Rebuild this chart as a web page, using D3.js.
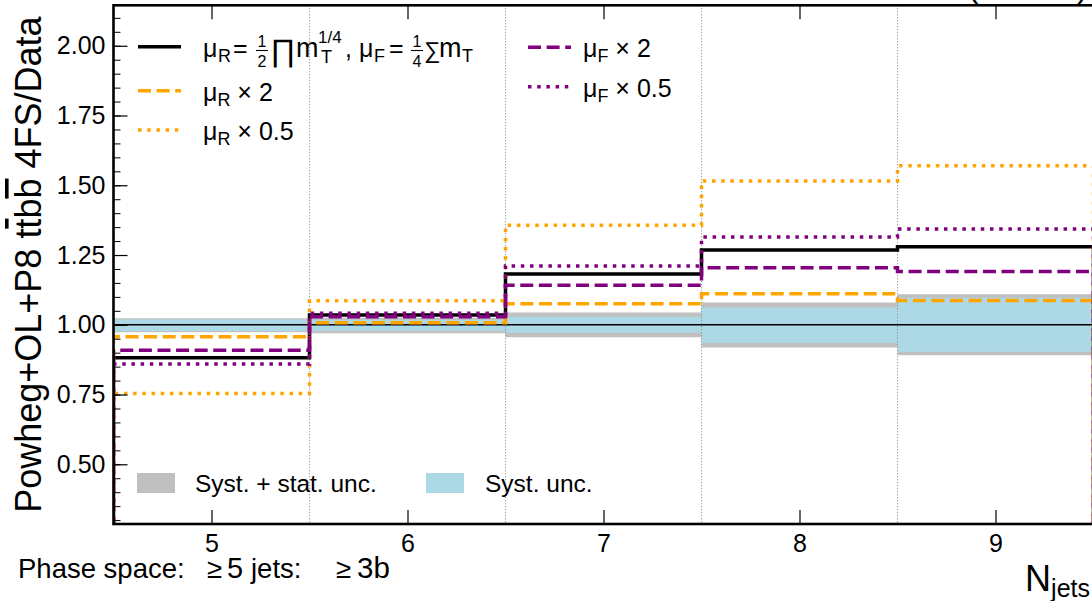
<!DOCTYPE html>
<html><head><meta charset="utf-8">
<script src="https://cdn.jsdelivr.net/npm/d3@7"></script>
<style>
body{margin:0;background:#fff;overflow:hidden}
text{font-family:"Liberation Sans",Arial,Helvetica,sans-serif;fill:#000}
</style>
</head><body>
<svg id="c" width="1092" height="601"></svg>
<script>
// ---- data ----
const binEdges = [4.5, 5.5, 6.5, 7.5, 8.5, 9.5];
const nJets = [5, 6, 7, 8, 9];
const nominal = [0.882, 1.035, 1.182, 1.268, 1.280];
const muRx2 = [0.957, 1.007, 1.075, 1.111, 1.087];
const muRx05 = [0.754, 1.086, 1.357, 1.515, 1.570];
const muFx2 = [0.909, 1.029, 1.142, 1.204, 1.191];
const muFx05 = [0.859, 1.041, 1.211, 1.315, 1.343];
const systStatUp = [1.023, 1.025, 1.044, 1.080, 1.109];
const systStatDown = [0.973, 0.970, 0.955, 0.919, 0.891];
const systUp = [1.019, 1.018, 1.029, 1.062, 1.097];
const systDown = [0.977, 0.979, 0.971, 0.935, 0.903];
const yTickValues = [0.50, 0.75, 1.00, 1.25, 1.50, 1.75, 2.00];
const yMinorValues = d3.range(6, 43).map(i => i * 0.05);

// ---- layout ----
const svg = d3.select("#c");
const L = 113.5, R = 1093.5, T = 5.3, B = 524;
const x = d3.scaleLinear().domain([4.5, 9.5]).range([L, R]);
const y = d3.scaleLinear().domain([0.286, 2.145]).range([B, T]);

svg.append("defs").append("clipPath").attr("id", "clip")
  .append("rect").attr("x", L).attr("y", T).attr("width", R - L).attr("height", B - T);

const plot = svg.append("g").attr("clip-path", "url(#clip)");

// bands
function bandData(lo, hi) {
  const d = lo.map((v, i) => ({ x: binEdges[i], lo: v, hi: hi[i] }));
  d.push({ x: binEdges[binEdges.length - 1], lo: lo[lo.length - 1], hi: hi[hi.length - 1] });
  return d;
}
const area = d3.area().curve(d3.curveStepAfter)
  .x(d => x(d.x)).y0(d => y(d.lo)).y1(d => y(d.hi));
plot.append("path").attr("d", area(bandData(systStatDown, systStatUp))).attr("fill", "#c0c0c0");
plot.append("path").attr("d", area(bandData(systDown, systUp))).attr("fill", "#add8e6");

// reference line
plot.append("line").attr("x1", x(4.5)).attr("x2", x(9.5)).attr("y1", y(1)).attr("y2", y(1))
  .attr("stroke", "#000").attr("stroke-width", 1.4);

// vertical dotted bin boundaries
plot.selectAll("line.vb").data(binEdges.slice(1, -1)).enter().append("line")
  .attr("x1", d => x(d)).attr("x2", d => x(d)).attr("y1", T).attr("y2", B)
  .attr("stroke", "#888").attr("stroke-width", 1.1).attr("stroke-dasharray", "1,2");

// step lines
function stepPoints(vals) {
  const p = [[binEdges[0], 0]];
  vals.forEach((v, i) => { p.push([binEdges[i], v]); p.push([binEdges[i + 1], v]); });
  p.push([binEdges[binEdges.length - 1], 0]);
  return p;
}
const line = d3.line().x(d => x(d[0])).y(d => y(d[1]));
const DASH = "13,5.6", DOT = "3.5,5.7";
const series = [
  { vals: nominal, color: "#000", dash: null, w: 3.5 },
  { vals: muRx2, color: "#ffa500", dash: DASH, w: 3.5 },
  { vals: muRx05, color: "#ffa500", dash: DOT, w: 3.5 },
  { vals: muFx2, color: "#800080", dash: DASH, w: 3.5 },
  { vals: muFx05, color: "#800080", dash: DOT, w: 3.5 },
];
series.forEach(s => {
  plot.append("path").attr("d", line(stepPoints(s.vals))).attr("fill", "none")
    .attr("stroke", s.color).attr("stroke-width", s.w)
    .attr("stroke-dasharray", s.dash);
});

// ---- axes ----
const yMinor = svg.append("g").attr("transform", `translate(${L},0)`)
  .call(d3.axisLeft(y).tickValues(yMinorValues).tickSize(-7).tickFormat(""));
const yMajor = svg.append("g").attr("transform", `translate(${L},0)`)
  .call(d3.axisLeft(y).tickValues(yTickValues).tickSize(-14).tickPadding(8).tickFormat(d3.format(".2f")));
const xBot = svg.append("g").attr("transform", `translate(0,${B})`)
  .call(d3.axisBottom(x).tickValues(nJets).tickSize(-14).tickPadding(10).tickFormat(d3.format("d")));
const xTop = svg.append("g").attr("transform", `translate(0,${T})`)
  .call(d3.axisTop(x).tickValues(nJets).tickSize(-14).tickFormat(""));
[yMinor, yMajor, xBot, xTop].forEach(g => {
  g.select(".domain").remove();
  g.selectAll(".tick line").attr("stroke", "#000").attr("stroke-width", 1.2);
  g.selectAll("text").attr("font-size", 25).attr("font-family", "Liberation Sans, Arial, sans-serif").attr("fill", "#000");
});
yMinor.selectAll(".tick line").attr("stroke-width", 1);

// frame
svg.append("rect").attr("x", L).attr("y", T).attr("width", R - L).attr("height", B - T)
  .attr("fill", "none").attr("stroke", "#000").attr("stroke-width", 2.6);

// axis titles
svg.append("text").attr("transform", `translate(41,${(T + B) / 2}) rotate(-90)`)
  .attr("text-anchor", "middle").attr("font-size", 36)
  .html('Powheg+OL+P8 t<tspan text-decoration="overline">t</tspan>b<tspan text-decoration="overline">b</tspan> 4FS/Data');

const xl = svg.append("text").attr("x", 1090).attr("y", 591).attr("text-anchor", "end").attr("font-size", 36);
xl.append("tspan").text("N");
xl.append("tspan").attr("font-size", 25).attr("dy", 6).text("jets");

const ph = svg.append("text").attr("y", 578).attr("font-size", 27.5);
ph.append("tspan").attr("x", 18).text("Phase space:");
ph.append("tspan").attr("x", 207).text("\u2265");
ph.append("tspan").attr("x", 227).attr("font-size", 29).text("5");
ph.append("tspan").attr("x", 251).text("jets:");
ph.append("tspan").attr("x", 336).text("\u2265");
ph.append("tspan").attr("x", 357).attr("font-size", 29.5).text("3b");

svg.append("text").attr("x", 1088).attr("y", -3.5).attr("text-anchor", "end").attr("font-size", 32)
  .text("(13 TeV)");

// ---- legend ----
const lg = svg.append("g");
function handle(x1, x2, yy, s) {
  lg.append("line").attr("x1", x1).attr("x2", x2).attr("y1", yy).attr("y2", yy)
    .attr("stroke", s.color).attr("stroke-width", s.w).attr("stroke-dasharray", s.dash);
}
function txt(xx, yy, size, str) {
  return lg.append("text").attr("x", xx).attr("y", yy).attr("font-size", size).text(str);
}
function fraction(cx, num, den) {
  lg.append("text").attr("x", cx).attr("y", 47).attr("font-size", 16).attr("text-anchor", "middle").text(num);
  lg.append("text").attr("x", cx).attr("y", 66.5).attr("font-size", 16).attr("text-anchor", "middle").text(den);
  lg.append("line").attr("x1", cx - 6).attr("x2", cx + 6).attr("y1", 50.5).attr("y2", 50.5)
    .attr("stroke", "#000").attr("stroke-width", 1.1);
}
handle(138, 181, 46.7, series[0]);
// row 1 math label
txt(203, 57, 25, "\u03bc");
txt(218, 62, 18, "R");
txt(233, 57, 25, "=");
fraction(262, "1", "2");
txt(270, 61, 31, "\u220f");
txt(296, 57, 27, "m");
txt(318, 43, 17, "1/4");
txt(321, 63, 18, "T");
txt(345, 57, 25, ",");
txt(359, 57, 25, "\u03bc");
txt(374, 62, 18, "F");
txt(389, 57, 25, "=");
fraction(417, "1", "4");
txt(424, 58, 23, "\u2211");
txt(439, 57, 27, "m");
txt(462, 62, 18, "T");

handle(138, 181, 90.7, series[1]);
const r2 = txt(203, 100.5, 25, "\u03bc");
r2.append("tspan").attr("font-size", 18).attr("dy", 5).text("R");
r2.append("tspan").attr("dy", -5).text(" \u00d7 2");
handle(138, 181, 130, series[2]);
const r3 = txt(203, 139.5, 25, "\u03bc");
r3.append("tspan").attr("font-size", 18).attr("dy", 5).text("R");
r3.append("tspan").attr("dy", -5).text(" \u00d7 0.5");

handle(528, 571, 47.3, series[3]);
const c2a = txt(583, 56.5, 25, "\u03bc");
c2a.append("tspan").attr("font-size", 18).attr("dy", 5).text("F");
c2a.append("tspan").attr("dy", -5).text(" \u00d7 2");
handle(528, 571, 86.7, series[4]);
const c2b = txt(583, 96.5, 25, "\u03bc");
c2b.append("tspan").attr("font-size", 18).attr("dy", 5).text("F");
c2b.append("tspan").attr("dy", -5).text(" \u00d7 0.5");

// band legend
lg.append("rect").attr("x", 137).attr("y", 473).attr("width", 38).attr("height", 20).attr("fill", "#c0c0c0");
txt(195, 492, 24.5, "Syst. + stat. unc.");
lg.append("rect").attr("x", 426).attr("y", 473).attr("width", 38).attr("height", 20).attr("fill", "#add8e6");
txt(485, 492, 24.5, "Syst. unc.");
</script>
</body></html>
